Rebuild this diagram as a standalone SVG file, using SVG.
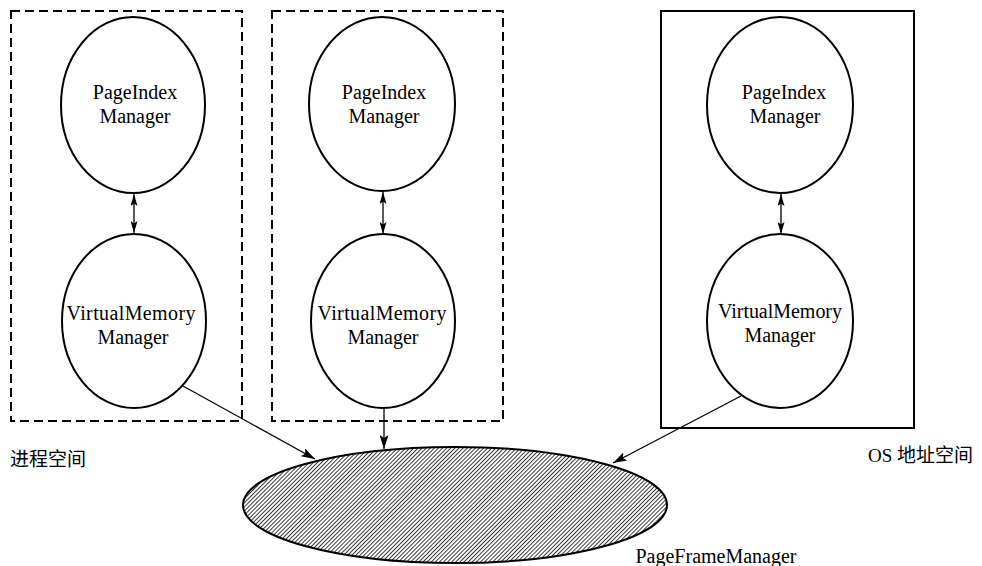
<svg xmlns="http://www.w3.org/2000/svg" width="982" height="566" viewBox="0 0 982 566">
  <style>
    .bg { fill: #ffffff; }
    .space { fill: none; stroke: #000; stroke-width: 2; }
    .dashed { stroke-dasharray: 9 5; }
    .node { fill: #ffffff; stroke: #000; stroke-width: 2; }
    .label { font-family: "Liberation Serif", "Times New Roman", serif; font-size: 20px; fill: #000; text-anchor: middle; }
    .cjk { font-family: "Liberation Serif", "Noto Sans CJK SC", serif; font-size: 19px; fill: #000; }
    .edge { fill: none; stroke: #000; stroke-width: 1.3; }
  </style>
  <defs>
    <marker id="arrow" markerUnits="userSpaceOnUse" markerWidth="15" markerHeight="9" refX="14" refY="4.5" orient="auto-start-reverse" viewBox="0 0 15 9">
      <path d="M0,0 L14,4.5 L0,9 L3,4.5 z" fill="#000"/>
    </marker>
    <marker id="arrow-small" markerUnits="userSpaceOnUse" markerWidth="13" markerHeight="7" refX="12" refY="3.5" orient="auto-start-reverse" viewBox="0 0 13 7">
      <path d="M0,0 L12,3.5 L0,7 L2.5,3.5 z" fill="#000"/>
    </marker>
    <pattern id="hatch" patternUnits="userSpaceOnUse" width="2.9" height="2.9" patternTransform="rotate(45)">
      <line x1="0.5" y1="0" x2="0.5" y2="2.9" stroke="#222" stroke-width="0.9"/>
    </pattern>
  </defs>

  <rect class="bg" x="0" y="0" width="982" height="566"/>

  <!-- address space boundaries -->
  <g id="process-space-1">
    <rect class="space dashed" x="11" y="11" width="231" height="410"/>
  </g>
  <g id="process-space-2">
    <rect class="space dashed" x="272" y="11" width="231" height="410"/>
  </g>
  <g id="os-space">
    <rect class="space" x="661" y="11" width="253" height="417"/>
  </g>

  <!-- process 1 -->
  <g id="pim-1">
    <ellipse class="node" cx="133" cy="105" rx="72" ry="88"/>
    <text class="label" x="135" y="99">PageIndex</text>
    <text class="label" x="135" y="123">Manager</text>
  </g>
  <g id="vmm-1">
    <ellipse class="node" cx="134" cy="321" rx="72" ry="87"/>
    <text class="label" x="131" y="320" textLength="129">VirtualMemory</text>
    <text class="label" x="133" y="344">Manager</text>
  </g>

  <!-- process 2 -->
  <g id="pim-2">
    <ellipse class="node" cx="382" cy="104" rx="73" ry="87"/>
    <text class="label" x="384" y="99">PageIndex</text>
    <text class="label" x="384" y="123">Manager</text>
  </g>
  <g id="vmm-2">
    <ellipse class="node" cx="383" cy="321" rx="72" ry="87"/>
    <text class="label" x="382" y="320" textLength="129">VirtualMemory</text>
    <text class="label" x="383" y="344">Manager</text>
  </g>

  <!-- OS -->
  <g id="pim-os">
    <ellipse class="node" cx="780" cy="105" rx="73" ry="88"/>
    <text class="label" x="784" y="99">PageIndex</text>
    <text class="label" x="785" y="123">Manager</text>
  </g>
  <g id="vmm-os">
    <ellipse class="node" cx="780" cy="321" rx="73" ry="87"/>
    <text class="label" x="780" y="318" textLength="124">VirtualMemory</text>
    <text class="label" x="780" y="342">Manager</text>
  </g>

  <!-- shared page frame manager -->
  <g id="pfm">
    <ellipse cx="455" cy="505" rx="212" ry="58" fill="url(#hatch)" stroke="#000" stroke-width="2"/>
    <text class="label" x="716" y="563">PageFrameManager</text>
  </g>

  <!-- space captions -->
  <g id="captions">
    <text class="cjk" x="10" y="466">进程空间</text>
    <text class="cjk" x="868" y="462">OS 地址空间</text>
  </g>

  <!-- connectors -->
  <g id="connectors">
    <line class="edge" x1="134" y1="194" x2="134" y2="233" marker-start="url(#arrow-small)" marker-end="url(#arrow-small)"/>
    <line class="edge" x1="383" y1="192" x2="383" y2="234" marker-start="url(#arrow-small)" marker-end="url(#arrow-small)"/>
    <line class="edge" x1="781" y1="194" x2="781" y2="234" marker-start="url(#arrow-small)" marker-end="url(#arrow-small)"/>
    <line class="edge" x1="183" y1="386" x2="315" y2="459" marker-end="url(#arrow)"/>
    <line class="edge" x1="384" y1="408" x2="384" y2="449" marker-end="url(#arrow)"/>
    <line class="edge" x1="741" y1="396" x2="613" y2="463" marker-end="url(#arrow)"/>
  </g>
</svg>
